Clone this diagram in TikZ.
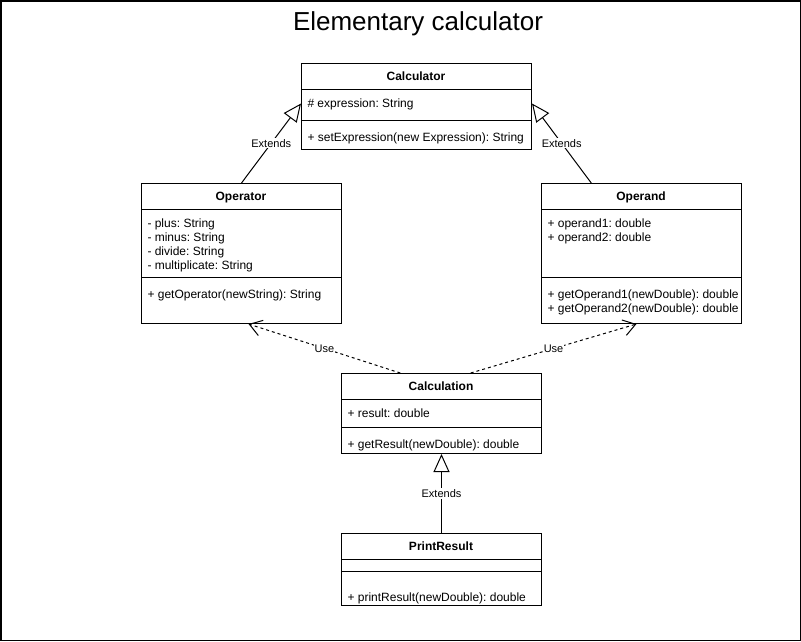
\documentclass[tikz,border=0pt]{standalone}
\usepackage{fontspec}
\setmainfont{Liberation Sans}
\usetikzlibrary{arrows.meta,calc}
\frenchspacing
\begin{document}
\begin{tikzpicture}[x=1pt,y=-1pt,line width=1pt,
  classbox/.style={draw,anchor=north west,inner sep=0pt,fill=white},
  hdr/.style={anchor=mid,inner sep=0pt,font=\fontsize{12}{14}\selectfont\bfseries},
  attr/.style={anchor=mid west,inner sep=0pt,font=\fontsize{12}{14}\selectfont},
  lbl/.style={fill=white,inner sep=1pt,font=\fontsize{11}{13}\selectfont},
  extline/.style={-{Triangle[open,length=18pt,width=16pt]}},
  useline/.style={dash pattern=on 3pt off 3pt,-{Straight Barb[length=12pt,width=16pt]}}]
\useasboundingbox (0,0) rectangle (801,641);
\draw[line width=1.5pt] (0.75,0.75) rectangle (800.25,640.25);
\node[anchor=base,inner sep=0pt,font=\fontsize{26}{30}\selectfont] (title) at (418,30) {Elementary calculator};

% Calculator
\node[classbox,minimum width=230pt,minimum height=86pt] (calc) at (301,63) {};
\draw (calc.west |- 0,89) -- (calc.east |- 0,89);
\draw (calc.west |- 0,120) -- (calc.east |- 0,120);
\node[hdr] (calc-t) at (416,78) {Calculator};
\node[attr] (calc-a1) at (307,105) {\# expression: String};
\node[attr] (calc-m1) at (307,139) {+ setExpression(new Expression): String};

% Operator
\node[classbox,minimum width=200pt,minimum height=140pt] (oper) at (141,183) {};
\draw (oper.west |- 0,209) -- (oper.east |- 0,209);
\draw (oper.west |- 0,277) -- (oper.east |- 0,277);
\node[hdr] (oper-t) at (241,198) {Operator};
\node[attr] (oper-a1) at (147,225) {- plus: String};
\node[attr] (oper-a2) at (147,239) {- minus: String};
\node[attr] (oper-a3) at (147,253) {- divide: String};
\node[attr] (oper-a4) at (147,267) {- multiplicate: String};
\node[attr] (oper-m1) at (147,296) {+ getOperator(newString): String};

% Operand
\node[classbox,minimum width=200pt,minimum height=140pt] (opnd) at (541,183) {};
\draw (opnd.west |- 0,209) -- (opnd.east |- 0,209);
\draw (opnd.west |- 0,277) -- (opnd.east |- 0,277);
\node[hdr] (opnd-t) at (641,198) {Operand};
\node[attr] (opnd-a1) at (547,225) {+ operand1: double};
\node[attr] (opnd-a2) at (547,239) {+ operand2: double};
\node[attr] (opnd-m1) at (547,296) {+ getOperand1(newDouble): double};
\node[attr] (opnd-m2) at (547,310) {+ getOperand2(newDouble): double};

% Calculation
\node[classbox,minimum width=200pt,minimum height=80pt] (calcn) at (341,373) {};
\draw (calcn.west |- 0,399) -- (calcn.east |- 0,399);
\draw (calcn.west |- 0,427) -- (calcn.east |- 0,427);
\node[hdr] (calcn-t) at (441,388) {Calculation};
\node[attr] (calcn-a1) at (347,415) {+ result: double};
\node[attr] (calcn-m1) at (347,446) {+ getResult(newDouble): double};

% PrintResult
\node[classbox,minimum width=200pt,minimum height=72pt] (prnt) at (341,533) {};
\draw (prnt.west |- 0,559) -- (prnt.east |- 0,559);
\draw (prnt.west |- 0,571) -- (prnt.east |- 0,571);
\node[hdr] (prnt-t) at (441,548) {PrintResult};
\node[attr] (prnt-m1) at (347,599) {+ printResult(newDouble): double};

% connectors
\draw[extline] (oper.north) -- node[lbl] {Extends} ([yshift=3pt]calc.west);
\draw[extline] ($(opnd.north west)!0.25!(opnd.north east)$) -- node[lbl] {Extends} ([yshift=3pt]calc.east);
\draw[extline] (prnt.north) -- node[lbl] {Extends} (calcn.south);
\draw[useline] ($(calcn.north west)!0.295!(calcn.north east)$) -- node[lbl] {Use} ($(oper.south west)!0.535!(oper.south east)$);
\draw[useline] ($(calcn.north west)!0.645!(calcn.north east)$) -- node[lbl] {Use} ($(opnd.south west)!0.475!(opnd.south east)$);
\end{tikzpicture}
\end{document}
